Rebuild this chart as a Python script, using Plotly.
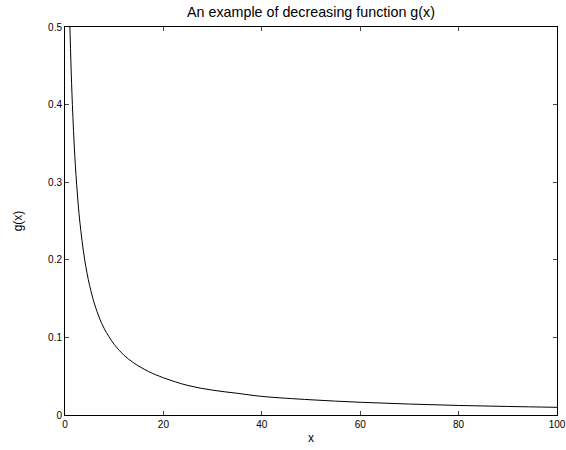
import plotly.graph_objects as go

x_vals = [0.7, 0.9, 1.2, 1.5, 2, 2.5, 3, 4, 5, 6, 7, 8, 10, 12, 14, 17, 20, 25, 30, 35, 40, 50, 60, 70, 80, 90, 100]
g_vals = [0.59, 0.526, 0.455, 0.4, 0.333, 0.286, 0.25, 0.2, 0.167, 0.143, 0.125, 0.111, 0.091, 0.077, 0.067, 0.056, 0.048, 0.038, 0.032, 0.028, 0.024, 0.0196, 0.0164, 0.0141, 0.0123, 0.011, 0.0099]
x_ticks = [0, 20, 40, 60, 80, 100]
y_ticks = [0, 0.1, 0.2, 0.3, 0.4, 0.5]
y_tick_text = ["0", "0.1", "0.2", "0.3", "0.4", "0.5"]

fig = go.Figure()
fig.add_trace(go.Scatter(x=x_vals, y=g_vals, mode="lines",
                         line=dict(color="black", width=1, shape="spline"),
                         showlegend=False, hoverinfo="skip"))

font = dict(family="Liberation Sans, Arial, sans-serif", size=10, color="black")
fig.update_layout(
    width=566, height=450,
    margin=dict(l=65, r=9, t=27, b=35, autoexpand=False),
    paper_bgcolor="white", plot_bgcolor="white",
    font=font,
    title=dict(text="An example of decreasing function g(x)", x=(65 + 557) / 2 / 566, xref="container",
               xanchor="center", y=1 - 12 / 450, yref="container", yanchor="middle", automargin=False,
               font=dict(family="Liberation Sans, Arial, sans-serif", size=14.3, color="black")),
    xaxis=dict(range=[0, 100], tickvals=x_ticks, ticks="inside", ticklen=4,
               showline=True, linecolor="black", linewidth=1, mirror="ticks",
               showgrid=False, zeroline=False, automargin=False,
               title=dict(text="x", standoff=4),
               tickfont=font),
    yaxis=dict(range=[0, 0.5], tickvals=y_ticks, ticktext=y_tick_text, ticks="inside", ticklen=4,
               showline=True, linecolor="black", linewidth=1, mirror="ticks",
               showgrid=False, zeroline=False, automargin=False,
               title=dict(text="g(x)", standoff=22),
               tickfont=font),
)

fig.write_html("out.html", config={"displayModeBar": False},
               post_script="document.body.style.margin='0';")
